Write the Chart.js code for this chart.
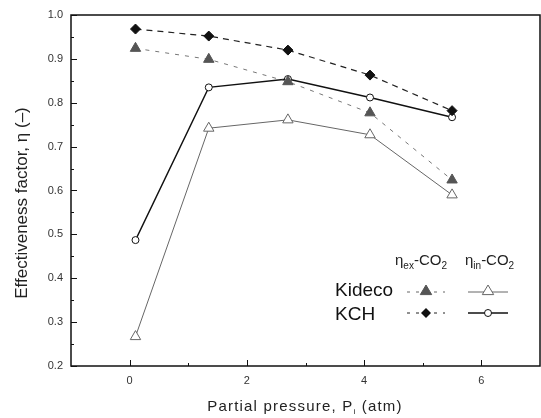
<!DOCTYPE html>
<html>
<head>
<meta charset="utf-8">
<script src="https://cdn.jsdelivr.net/npm/chart.js@4.4.0/dist/chart.umd.min.js"></script>
<style>
  html, body { margin: 0; padding: 0; background: #fff; }
  #wrap { width: 541px; height: 418px; position: relative; }
</style>
</head>
<body>
<div id="wrap"><canvas id="chart"></canvas></div>
<script>
// pressures (atm)
const pressures = [0.1, 1.35, 2.7, 4.1, 5.5];
const kidecoEx = [0.924, 0.899, 0.848, 0.777, 0.624];
const kchEx = [0.968, 0.952, 0.920, 0.863, 0.782];
const kidecoIn = [0.267, 0.742, 0.761, 0.727, 0.590];
const kchIn = [0.487, 0.835, 0.854, 0.812, 0.767];
const xTickLabels = ['0', '2', '4', '6'];
const yTickLabels = ['0.2', '0.3', '0.4', '0.5', '0.6', '0.7', '0.8', '0.9', '1.0'];

const FONT = '"Liberation Sans", Arial, sans-serif';

function pts(ys) {
  return pressures.map((x, i) => ({ x: x, y: ys[i] }));
}

// frame, inward ticks, axis titles, legend block
const decor = {
  id: 'decor',
  afterDraw(chart) {
    const ctx = chart.ctx;
    const a = chart.chartArea;
    const xs = chart.scales.x, ys = chart.scales.y;
    ctx.save();
    ctx.strokeStyle = '#111';
    ctx.lineWidth = 1.5;
    ctx.strokeRect(a.left, a.top, a.right - a.left, a.bottom - a.top);

    ctx.lineWidth = 1;
    ctx.beginPath();
    for (let v = 0; v <= 6; v++) {
      const px = Math.round(xs.getPixelForValue(v)) + 0.5;
      const len = v % 2 === 0 ? 6 : 3;
      ctx.moveTo(px, a.bottom);
      ctx.lineTo(px, a.bottom - len);
    }
    for (let k = 0; k <= 16; k++) {
      const v = 0.2 + k * 0.05;
      const py = Math.round(ys.getPixelForValue(v)) + 0.5;
      const len = k % 2 === 0 ? 6 : 3;
      ctx.moveTo(a.left, py);
      ctx.lineTo(a.left + len, py);
    }
    ctx.stroke();

    // y title
    ctx.fillStyle = '#222';
    ctx.font = '17px ' + FONT;
    ctx.textAlign = 'center';
    ctx.textBaseline = 'middle';
    ctx.save();
    ctx.translate(22, 203);
    ctx.rotate(-Math.PI / 2);
    ctx.fillText('Effectiveness factor, \u03b7 (\u2013)', 0, 0);
    ctx.restore();

    // x title with subscript
    ctx.textAlign = 'left';
    ctx.letterSpacing = '1.2px';
    const t1 = 'Partial pressure, P', t2 = ' (atm)';
    ctx.font = '15px ' + FONT;
    const w1 = ctx.measureText(t1).width;
    ctx.font = '8px ' + FONT;
    const ws = ctx.measureText('i').width;
    ctx.font = '15px ' + FONT;
    const w2 = ctx.measureText(t2).width;
    let x0 = 305 - (w1 + ws + w2) / 2;
    const ty = 407;
    ctx.fillText(t1, x0, ty);
    ctx.font = '8px ' + FONT;
    ctx.fillText('i', x0 + w1, ty + 5);
    ctx.font = '15px ' + FONT;
    ctx.fillText(t2, x0 + w1 + ws, ty);
    ctx.letterSpacing = '0px';

    // legend headers
    function eta(x, y, sub) {
      ctx.font = '15px ' + FONT;
      ctx.fillText('\u03b7', x, y);
      let cx = x + ctx.measureText('\u03b7').width;
      ctx.font = '10px ' + FONT;
      ctx.fillText(sub, cx, y + 5);
      cx += ctx.measureText(sub).width;
      ctx.font = '15px ' + FONT;
      ctx.fillText('-CO', cx, y);
      cx += ctx.measureText('-CO').width;
      ctx.font = '10px ' + FONT;
      ctx.fillText('2', cx, y + 5);
    }
    ctx.fillStyle = '#222';
    eta(395, 261, 'ex');
    eta(465, 261, 'in');

    ctx.font = '19px ' + FONT;
    ctx.fillStyle = '#111';
    ctx.fillText('Kideco', 335, 291);
    ctx.fillText('KCH', 335, 315);

    function seg(x1, x2, y, color, dash, width) {
      ctx.beginPath();
      ctx.setLineDash(dash);
      ctx.strokeStyle = color;
      ctx.lineWidth = width;
      ctx.moveTo(x1, y);
      ctx.lineTo(x2, y);
      ctx.stroke();
      ctx.setLineDash([]);
    }
    function tri(x, y, r, fill, stroke) {
      ctx.beginPath();
      ctx.moveTo(x, y - r);
      ctx.lineTo(x + r * 0.95, y + r * 0.6);
      ctx.lineTo(x - r * 0.95, y + r * 0.6);
      ctx.closePath();
      ctx.fillStyle = fill;
      ctx.fill();
      ctx.strokeStyle = stroke;
      ctx.lineWidth = 1;
      ctx.stroke();
    }
    function dia(x, y, r) {
      ctx.beginPath();
      ctx.moveTo(x, y - r);
      ctx.lineTo(x + r, y);
      ctx.lineTo(x, y + r);
      ctx.lineTo(x - r, y);
      ctx.closePath();
      ctx.fillStyle = '#111';
      ctx.fill();
    }
    function circ(x, y, r) {
      ctx.beginPath();
      ctx.arc(x, y, r, 0, Math.PI * 2);
      ctx.fillStyle = '#fff';
      ctx.fill();
      ctx.strokeStyle = '#111';
      ctx.lineWidth = 1;
      ctx.stroke();
    }
    seg(407, 445, 292, '#666', [3, 6], 1);
    tri(426, 291, 6, '#555', '#555');
    seg(468, 508, 292, '#666', [], 1);
    tri(488, 291, 6, '#fff', '#666');
    seg(407, 445, 313, '#222', [3, 6], 1);
    dia(426, 313, 5);
    seg(468, 508, 313, '#111', [], 1.3);
    circ(488, 313, 3.5);
    ctx.restore();
  }
};

new Chart(document.getElementById('chart'), {
  type: 'line',
  data: {
    datasets: [
      {
        label: 'Kideco ex',
        data: pts(kidecoEx),
        borderColor: '#777',
        borderWidth: 1,
        borderDash: [4, 6],
        pointStyle: 'triangle',
        pointRadius: 6,
        pointBackgroundColor: '#555',
        pointBorderColor: '#555',
        pointBorderWidth: 1
      },
      {
        label: 'KCH ex',
        data: pts(kchEx),
        borderColor: '#222',
        borderWidth: 1.2,
        borderDash: [6, 5],
        pointStyle: 'rectRot',
        pointRadius: 5,
        pointBackgroundColor: '#111',
        pointBorderColor: '#111',
        pointBorderWidth: 1
      },
      {
        label: 'Kideco in',
        data: pts(kidecoIn),
        borderColor: '#666',
        borderWidth: 1,
        pointStyle: 'triangle',
        pointRadius: 6,
        pointBackgroundColor: '#fff',
        pointBorderColor: '#666',
        pointBorderWidth: 1
      },
      {
        label: 'KCH in',
        data: pts(kchIn),
        borderColor: '#111',
        borderWidth: 1.4,
        pointStyle: 'circle',
        pointRadius: 3.5,
        pointBackgroundColor: '#fff',
        pointBorderColor: '#111',
        pointBorderWidth: 1
      }
    ]
  },
  options: {
    responsive: true,
    maintainAspectRatio: false,
    animation: false,
    layout: { autoPadding: false, padding: { top: 15, right: 1, left: 0, bottom: 0 } },
    plugins: { legend: { display: false }, tooltip: { enabled: false } },
    elements: { line: { tension: 0 } },
    scales: {
      x: {
        type: 'linear',
        min: -1,
        max: 7,
        afterBuildTicks(scale) {
          scale.ticks = xTickLabels.map(v => ({ value: Number(v) }));
        },
        afterFit(scale) {
          scale.height = 52;
          scale.paddingLeft = 0;
          scale.paddingRight = 0;
        },
        grid: { display: false, drawTicks: false },
        border: { display: false },
        ticks: {
          padding: 8,
          color: '#333',
          font: { family: FONT, size: 11 },
          maxRotation: 0,
          callback: v => String(v)
        }
      },
      y: {
        type: 'linear',
        min: 0.2,
        max: 1.0,
        afterBuildTicks(scale) {
          scale.ticks = yTickLabels.map(v => ({ value: Number(v) }));
        },
        afterFit(scale) {
          scale.width = 71;
          scale.paddingTop = 0;
          scale.paddingBottom = 0;
        },
        grid: { display: false, drawTicks: false },
        border: { display: false },
        ticks: {
          padding: 8,
          color: '#333',
          font: { family: FONT, size: 11 },
          callback: v => v.toFixed(1)
        }
      }
    }
  },
  plugins: [decor]
});
</script>
</body>
</html>
